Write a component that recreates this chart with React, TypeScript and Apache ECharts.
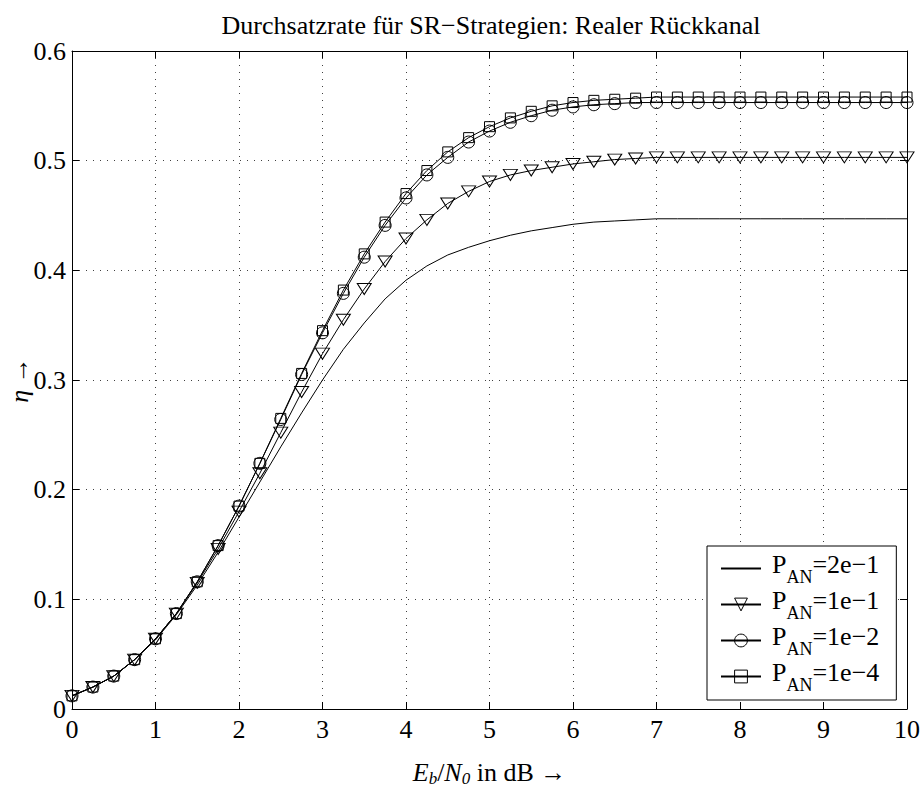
import React, { useEffect, useRef } from "react";
import * as echarts from "echarts";

const xValues = [
  0, 0.25, 0.5, 0.75, 1, 1.25, 1.5, 1.75, 2, 2.25, 2.5, 2.75, 3, 3.25, 3.5, 3.75,
  4, 4.25, 4.5, 4.75, 5, 5.25, 5.5, 5.75, 6, 6.25, 6.5, 6.75, 7, 7.25, 7.5, 7.75,
  8, 8.25, 8.5, 8.75, 9, 9.25, 9.5, 9.75, 10,
];

const pan2e1 = [
  0.012, 0.02, 0.03, 0.045, 0.063, 0.086, 0.113, 0.143, 0.175, 0.207, 0.239, 0.27,
  0.3, 0.328, 0.352, 0.374, 0.391, 0.404, 0.414, 0.421, 0.427, 0.432, 0.436, 0.439,
  0.442, 0.444, 0.445, 0.446, 0.447, 0.447, 0.447, 0.447, 0.447, 0.447, 0.447, 0.447,
  0.447, 0.447, 0.447, 0.447, 0.447,
];

const pan1e1 = [
  0.012, 0.02, 0.03, 0.045, 0.064, 0.087, 0.115, 0.146, 0.18, 0.215, 0.252, 0.289,
  0.324, 0.355, 0.383, 0.408, 0.429, 0.446, 0.461, 0.472, 0.481, 0.487, 0.491, 0.494,
  0.497, 0.499, 0.501, 0.502, 0.503, 0.503, 0.503, 0.503, 0.503, 0.503, 0.503, 0.503,
  0.503, 0.503, 0.503, 0.503, 0.503,
];

const pan1e2 = [
  0.012, 0.02, 0.03, 0.045, 0.064, 0.087, 0.116, 0.149, 0.185, 0.224, 0.264, 0.305,
  0.343, 0.379, 0.412, 0.441, 0.466, 0.487, 0.503, 0.517, 0.527, 0.535, 0.541, 0.546,
  0.549, 0.551, 0.552, 0.553, 0.553, 0.553, 0.553, 0.553, 0.553, 0.553, 0.553, 0.553,
  0.553, 0.553, 0.553, 0.553, 0.553,
];

const pan1e4 = [
  0.012, 0.02, 0.03, 0.045, 0.064, 0.087, 0.116, 0.149, 0.185, 0.224, 0.265, 0.306,
  0.345, 0.382, 0.415, 0.444, 0.47, 0.491, 0.508, 0.521, 0.531, 0.539, 0.545, 0.55,
  0.553, 0.555, 0.556, 0.557, 0.558, 0.558, 0.558, 0.558, 0.558, 0.558, 0.558, 0.558,
  0.558, 0.558, 0.558, 0.558, 0.558,
];

const legendValues = ["2e\u22121", "1e\u22121", "1e\u22122", "1e\u22124"];
const seriesNames = ["PAN=2e-1", "PAN=1e-1", "PAN=1e-2", "PAN=1e-4"];
const titleText = "Durchsatzrate f\u00fcr SR\u2212Strategien: Realer R\u00fcckkanal";
const xTicks = { min: 0, max: 10, interval: 1 };
const yTicks = { min: 0, max: 0.6, interval: 0.1 };

const FONT = "Liberation Serif";
const FS = 26;

export default function App() {
  const ref = useRef<HTMLDivElement>(null);

  useEffect(() => {
    if (!ref.current) return;
    const chart = echarts.init(ref.current, undefined, { renderer: "svg" });

    const hollow = { color: "rgba(0,0,0,0)", borderColor: "#000", borderWidth: 1 };
    const mk = (
      name: string,
      values: number[],
      symbol: string,
      size: number | number[],
      rotate: number
    ) => ({
      type: "line",
      name,
      data: xValues.map((x, i) => [x, values[i]]),
      symbol,
      symbolSize: size,
      symbolRotate: rotate,
      showSymbol: symbol !== "none",
      showAllSymbol: true,
      lineStyle: { color: "#000", width: 1 },
      itemStyle: hollow,
      emphasis: { disabled: true },
      silent: true,
      xAxisIndex: 0,
      yAxisIndex: 0,
    });

    const gridLine = {
      show: true,
      lineStyle: { color: "#000", width: 1, type: [1, 6] as any, opacity: 0.75 },
    };
    const axisLine = { show: true, onZero: false, lineStyle: { color: "#000", width: 1 } };
    const tick = { show: true, inside: true, length: 7, lineStyle: { color: "#000", width: 1 } };

    const option: any = {
      animation: false,
      backgroundColor: "#fff",
      textStyle: { fontFamily: FONT },
      title: {
        text: titleText,
        left: 486,
        textAlign: "center",
        top: 7,
        textStyle: { fontFamily: FONT, fontSize: FS, fontWeight: "normal", color: "#000" },
      },
      grid: { left: 72, right: 15, top: 51, bottom: 78, containLabel: false, outerBoundsMode: "none" },
      xAxis: [
        {
          type: "value",
          ...xTicks,
          position: "bottom",
          axisLine,
          axisTick: tick,
          splitLine: gridLine,
          axisLabel: { fontFamily: FONT, fontSize: FS, color: "#000", margin: 7 },
          name: "{i|E}{sb|b}{n|/}{i|N}{sb|0}{n| in dB \u2192}",
          nameLocation: "middle",
          nameGap: 50,
          nameMoveOverlap: false,
          nameTextStyle: {
            fontFamily: FONT,
            color: "#000",
            rich: {
              i: { fontFamily: FONT, fontStyle: "italic", fontSize: FS, lineHeight: FS, verticalAlign: "top" },
              n: { fontFamily: FONT, fontSize: FS, lineHeight: FS, verticalAlign: "top" },
              sb: { fontFamily: FONT, fontStyle: "italic", fontSize: 17, lineHeight: 28, verticalAlign: "bottom" },
            },
          },
        },
        {
          type: "value",
          ...xTicks,
          position: "top",
          axisLine,
          axisTick: tick,
          splitLine: { show: false },
          axisLabel: { show: false },
        },
      ],
      yAxis: [
        {
          type: "value",
          ...yTicks,
          position: "left",
          axisLine,
          axisTick: tick,
          splitLine: gridLine,
          axisLabel: {
            fontFamily: FONT,
            fontSize: FS,
            color: "#000",
            margin: 6,
            formatter: (v: number) => (v === 0 ? "0" : v.toFixed(1)),
          },
          name: "{i|\u03b7} \u2192",
          nameLocation: "middle",
          nameRotate: 90,
          nameGap: 40,
          nameMoveOverlap: false,
          nameTextStyle: {
            fontFamily: FONT,
            fontSize: FS,
            color: "#000",
            rich: { i: { fontFamily: FONT, fontStyle: "italic", fontSize: FS } },
          },
        },
        {
          type: "value",
          ...yTicks,
          position: "right",
          axisLine,
          axisTick: tick,
          splitLine: { show: false },
          axisLabel: { show: false },
        },
      ],
      legend: {
        orient: "vertical",
        left: 707,
        top: 546,
        padding: [5, 17, 6, 13],
        itemGap: 1,
        itemWidth: 40,
        itemHeight: 16,
        selectedMode: false,
        backgroundColor: "#fff",
        borderColor: "#000",
        borderWidth: 1,
        borderRadius: 0,
        data: [
          { name: seriesNames[0], itemStyle: { color: "rgba(0,0,0,0)", borderColor: "rgba(0,0,0,0)" } },
          { name: seriesNames[1], itemStyle: hollow },
          { name: seriesNames[2], itemStyle: hollow },
          { name: seriesNames[3], itemStyle: hollow },
        ],
        formatter: (name: string) => {
          const idx = seriesNames.indexOf(name);
          return `{g| }{p|P}{s|AN}{p|=${legendValues[idx]}}`;
        },
        textStyle: {
          fontFamily: FONT,
          color: "#000",
          rich: {
            g: { width: 6, fontSize: 10 },
            p: { fontFamily: FONT, fontSize: FS, lineHeight: FS, verticalAlign: "top" },
            s: { fontFamily: FONT, fontSize: 18, lineHeight: 35, verticalAlign: "bottom" },
          },
        },
      },
      series: [
        mk(seriesNames[0], pan2e1, "none", 0, 0),
        mk(seriesNames[1], pan1e1, "triangle", [14, 11], 180),
        mk(seriesNames[2], pan1e2, "circle", 12, 0),
        mk(seriesNames[3], pan1e4, "rect", 10, 0),
      ],
    };

    chart.setOption(option);
    return () => chart.dispose();
  }, []);

  return (
    <div
      ref={ref}
      style={{ position: "fixed", left: 0, top: 0, width: 922, height: 787, background: "#fff" }}
    />
  );
}
